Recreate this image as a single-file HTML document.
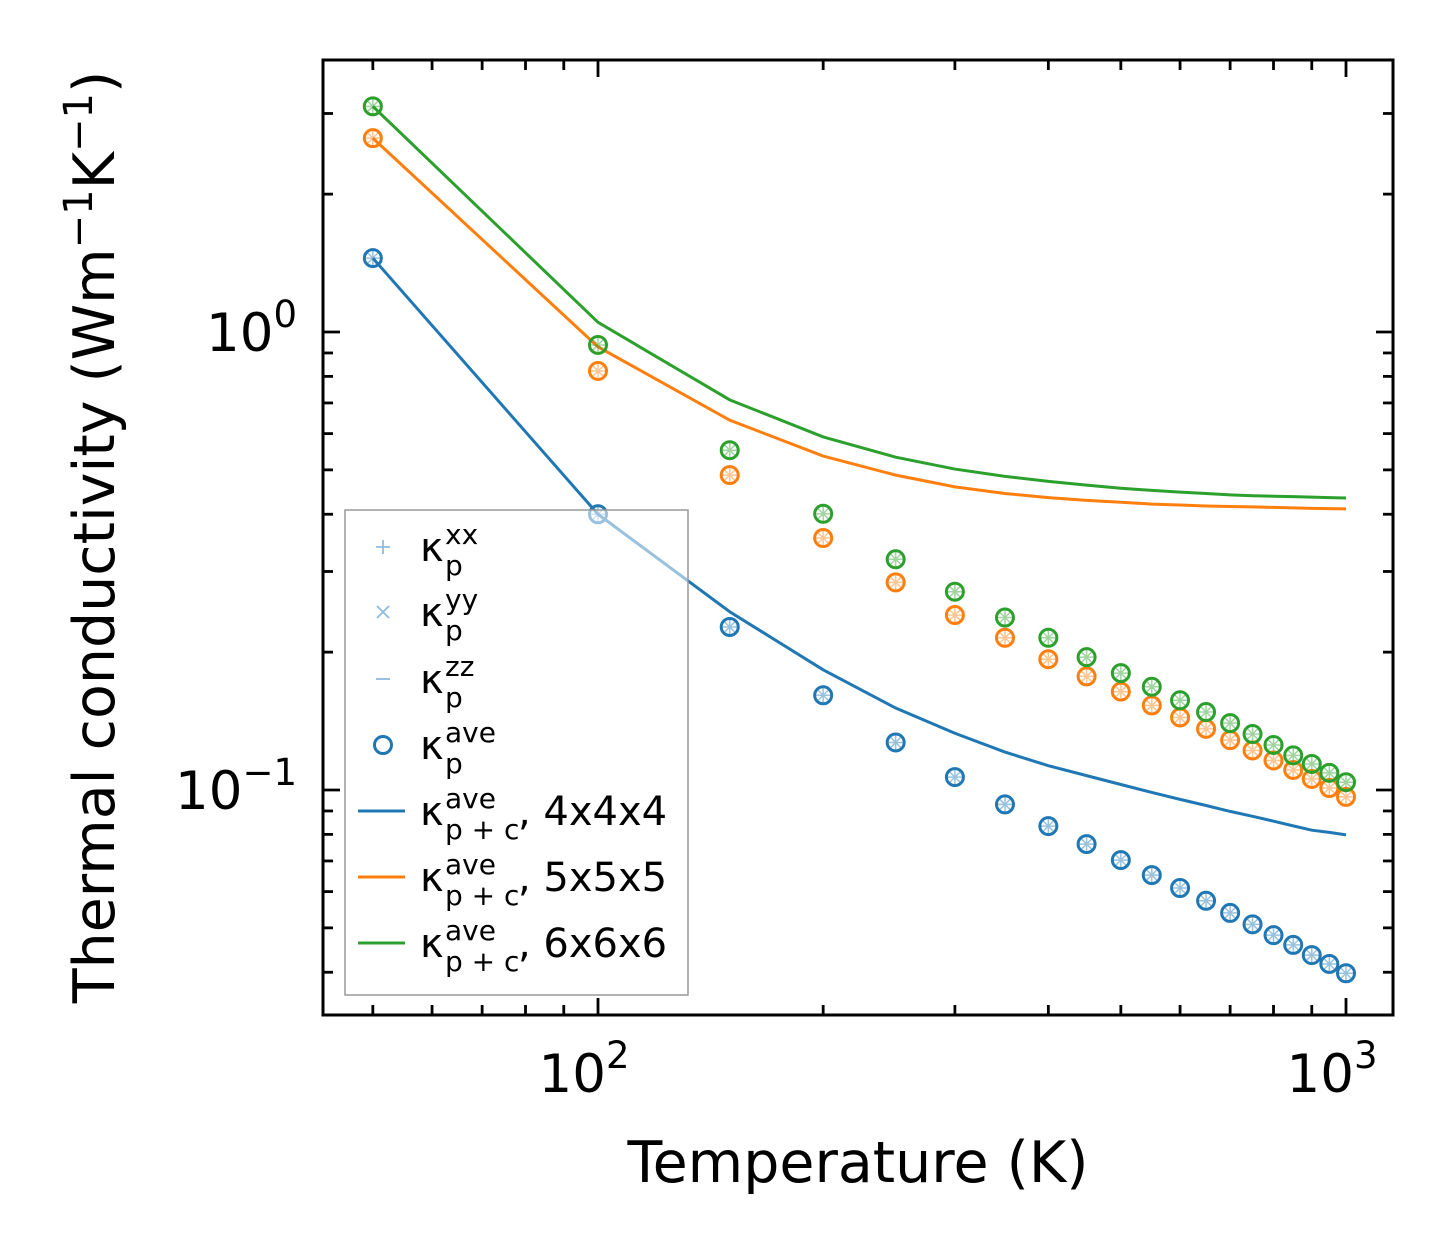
<!DOCTYPE html>
<html><head><meta charset="utf-8"><style>
html,body{margin:0;padding:0;background:#fff}
svg{display:block;font-family:"DejaVu Sans","Liberation Sans",sans-serif}
</style></head><body>
<svg id="chart" width="1454" height="1254" viewBox="0 0 1454 1254">
<rect x="0" y="0" width="1454" height="1254" fill="#fff"/>
<g id="plot"></g>
<text x="858" y="1182" font-size="57" text-anchor="middle">Temperature (K)</text>
<text transform="translate(114,537) rotate(-90)" font-size="57" text-anchor="middle">Thermal conductivity (Wm<tspan dy="-22" font-size="40">−1</tspan><tspan dy="22">K</tspan><tspan dy="-22" font-size="40">−1</tspan><tspan dy="22">)</tspan></text>
</svg>
<script>
const temps=[50,100,150,200,250,300,350,400,450,500,550,600,650,700,750,800,850,900,950,1000];
const blueAve=[1.45,0.40,0.227,0.161,0.127,0.1067,0.093,0.0834,0.0762,0.0703,0.0652,0.0611,0.0573,0.0539,0.0509,0.0482,0.0459,0.0436,0.0417,0.0398];
const orangeAve=[2.65,0.822,0.487,0.355,0.284,0.241,0.215,0.193,0.177,0.164,0.153,0.144,0.136,0.1285,0.122,0.116,0.1106,0.1057,0.101,0.0966];
const greenAve=[3.11,0.937,0.552,0.401,0.319,0.271,0.238,0.215,0.195,0.18,0.168,0.157,0.148,0.14,0.1325,0.1254,0.119,0.114,0.109,0.104];
const blueLine=[1.45,0.40,0.245,0.183,0.151,0.133,0.121,0.113,0.1075,0.1028,0.0988,0.0954,0.0925,0.0898,0.0876,0.0855,0.0835,0.0817,0.0808,0.0798];
const orangeLine=[2.65,0.928,0.642,0.536,0.487,0.459,0.444,0.435,0.429,0.425,0.421,0.419,0.417,0.416,0.415,0.414,0.413,0.412,0.4115,0.411];
const greenLine=[3.11,1.05,0.711,0.59,0.533,0.502,0.484,0.472,0.463,0.456,0.451,0.447,0.444,0.441,0.439,0.438,0.437,0.436,0.435,0.434];
const xTickLabels=["2","3"];
const yTickLabels=["0","−1"];

const NS="http://www.w3.org/2000/svg";
const L=323,R=1393,T=60,B=1015;
const xs=v=>598+748*(Math.log10(v)-2);
const ys=v=>332-458*Math.log10(v);
const plot=document.getElementById('plot');
function mk(tag,attrs,txt){const e=document.createElementNS(NS,tag);for(const k in attrs)e.setAttribute(k,attrs[k]);if(txt!==undefined)e.textContent=txt;plot.appendChild(e);return e;}

for(let d=1;d<=3;d++){for(let m=1;m<=9;m++){const v=m*Math.pow(10,d);const x=xs(v);if(x<L||x>R)continue;const len=m===1?17:10;
const t1=mk('line',{x1:x,y1:B,x2:x,y2:B-len,stroke:'#000','stroke-width':2.8});


const t2=mk('line',{x1:x,y1:T,x2:x,y2:T+len,stroke:'#000','stroke-width':2.8});

}}
for(let d=-2;d<=0;d++){for(let m=1;m<=9;m++){const v=m*Math.pow(10,d);const y=ys(v);if(y<T||y>B)continue;const len=m===1?17:10;
const t1=mk('line',{x1:L,y1:y,x2:L+len,y2:y,stroke:'#000','stroke-width':2.8});


const t2=mk('line',{x1:R,y1:y,x2:R-len,y2:y,stroke:'#000','stroke-width':2.8});

}}
xTickLabels.forEach((s,i)=>{const x=xs(Math.pow(10,i+2));const t=mk('text',{x:x-14,y:1092,'font-size':53,'text-anchor':'middle'});


t.innerHTML='10<tspan dy="-24" font-size="37">'+s+'</tspan>';});
yTickLabels.forEach((s,i)=>{const y=ys(Math.pow(10,-i));const t=mk('text',{x:297,y:y+19,'font-size':53,'text-anchor':'end'});


t.innerHTML='10<tspan dy="-24" font-size="37">'+s+'</tspan>';});

const cols=['#1f77b4','#ff7f0e','#2ca02c'];
const aves=[blueAve,orangeAve,greenAve];
const lines=[blueLine,orangeLine,greenLine];
const names=['blue','orange','green'];
lines.forEach((arr,k)=>{const p=mk('polyline',{points:temps.map((t,i)=>xs(t)+','+ys(arr[i])).join(' '),fill:'none',stroke:cols[k],'stroke-width':3});

});
aves.forEach((arr,k)=>{temps.forEach((t,i)=>{const x=xs(t),y=ys(arr[i]);
const pl=mk('path',{d:`M${x-7} ${y}H${x+7}M${x} ${y-7}V${y+7}M${x-5} ${y-5}L${x+5} ${y+5}M${x-5} ${y+5}L${x+5} ${y-5}`,stroke:cols[k],'stroke-opacity':0.45,'stroke-width':1.5});


const c=mk('circle',{cx:x,cy:y,r:8.5,fill:'none',stroke:cols[k],'stroke-width':3});

});});

const fr=mk('rect',{x:L,y:T,width:R-L,height:B-T,fill:'none',stroke:'#000','stroke-width':3});



const lg=mk('rect',{x:345,y:510,width:343,height:485,fill:'#fff','fill-opacity':0.55,stroke:'#999','stroke-width':1.5});


const ly=[547,612,679,745,811,877,943];
const lc='#8fbbdd';
function lt(y,sup,sub,extra,dxExtra){
let t=mk('text',{x:420,y:y+14,'font-size':40},'κ');


t=mk('text',{x:445,y:y+28,'font-size':28},sub);


t=mk('text',{x:445,y:y-3,'font-size':28},sup);


if(extra){t=mk('text',{x:dxExtra,y:y+14,'font-size':40},extra);

}}
let e;
e=mk('path',{d:`M376 ${ly[0]}H390M383 ${ly[0]-7}V${ly[0]+7}`,stroke:lc,'stroke-width':1.8});


e=mk('path',{d:`M377 ${ly[1]-6}L389 ${ly[1]+6}M377 ${ly[1]+6}L389 ${ly[1]-6}`,stroke:lc,'stroke-width':1.8});


e=mk('path',{d:`M376 ${ly[2]}H390`,stroke:lc,'stroke-width':1.8});


e=mk('circle',{cx:383,cy:ly[3],r:8.5,fill:'none',stroke:cols[0],'stroke-width':3});


for(let k=0;k<3;k++){e=mk('line',{x1:358,x2:405,y1:ly[4+k],y2:ly[4+k],stroke:cols[k],'stroke-width':3});

}
lt(ly[0],'xx','p');lt(ly[1],'yy','p');lt(ly[2],'zz','p');lt(ly[3],'ave','p');
['4x4x4','5x5x5','6x6x6'].forEach((s,k)=>lt(ly[4+k],'ave','p + c',', '+s,518));
</script>
</body></html>
